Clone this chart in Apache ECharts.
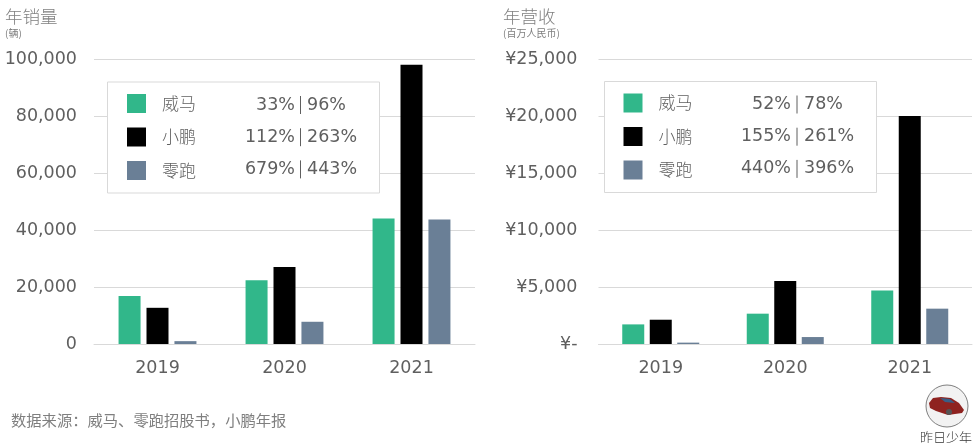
<!DOCTYPE html>
<html>
<head>
<meta charset="utf-8">
<style>
  html, body { margin: 0; padding: 0; background: #fff; }
  #main { width: 975px; height: 443px; }
</style>
<script src="https://cdn.jsdelivr.net/npm/echarts@6/dist/echarts.min.js"></script>
</head>
<body>
<div id="main"></div>
<script>
let years = ['2019', '2020', '2021'];
let brands = ['威马', '小鹏', '零跑'];

// 年销量
let sales_weima = [16800, 22400, 44000];
let sales_xpeng = [12700, 27000, 98000];
let sales_leap = [1000, 7800, 43700];
let sales_growth_a = ['33%', '112%', '679%'];
let sales_growth_b = ['96%', '263%', '443%'];

// 年营收
let revenue_weima = [1720, 2660, 4700];
let revenue_xpeng = [2130, 5530, 20000];
let revenue_leap = [120, 610, 3100];
let revenue_growth_a = ['52%', '155%', '440%'];
let revenue_growth_b = ['78%', '261%', '396%'];

let colors = ['#31b78a', '#000000', '#6a7f96'];
let font = "'DejaVu Sans ExtraLight', 'DejaVu Sans', sans-serif";
let cjk_font = "'Noto Sans CJK SC', sans-serif";
let label_size = 17.5;
let label_color = '#5f5f5f';

let chart = echarts.init(document.getElementById('main'));

function get_title(text, subtext, left) {
    return {
        text: text,
        subtext: subtext,
        left: left,
        top: 4,
        padding: 0,
        itemGap: 0,
        textStyle: {fontFamily: cjk_font, fontSize: 17.5, fontWeight: 300, color: '#7f7f7f', lineHeight: 24},
        subtextStyle: {fontFamily: cjk_font, fontSize: 10, color: '#7f7f7f', lineHeight: 11}
    };
}

function get_legend(left, top) {
    return {
        orient: 'vertical',
        left: left,
        top: top,
        data: brands,
        icon: 'rect',
        itemWidth: 19,
        itemHeight: 19,
        itemGap: 14.5,
        padding: [12, 0, 13, 19],
        selectedMode: false,
        textStyle: {
            fontFamily: cjk_font,
            fontSize: 17,
            fontWeight: 300,
            color: label_color,
            padding: [0, 0, 0, 11]
        }
    };
}

function get_legend_box(x, y) {
    return {type: 'rect', z: 1, shape: {x: x, y: y, width: 272, height: 111}, style: {fill: '#fff', stroke: '#d9d9d9', lineWidth: 1}};
}

// 图例右侧的增长率，竖线左右各一列
function get_growth_texts(a_values, b_values, a_right, line_x, b_left, first_y) {
    let items = [];
    for (let i = 0; i < brands.length; i++) {
        let y = first_y + i * 32.2;
        items.push({type: 'text', z: 10, x: a_right, y: y, style: {text: a_values[i], fontFamily: font, fontSize: label_size, fill: label_color, align: 'right', verticalAlign: 'middle'}});
        items.push({type: 'line', z: 10, shape: {x1: line_x, y1: y - 9, x2: line_x, y2: y + 9}, style: {stroke: label_color, lineWidth: 1}});
        items.push({type: 'text', z: 10, x: b_left, y: y, style: {text: b_values[i], fontFamily: font, fontSize: label_size, fill: label_color, align: 'left', verticalAlign: 'middle'}});
    }
    return items;
}

function get_x_axis(index) {
    return {
        type: 'category',
        gridIndex: index,
        data: years,
        axisTick: {show: false},
        axisLine: {lineStyle: {color: '#d9d9d9', width: 1}},
        axisLabel: {fontFamily: font, fontSize: label_size, color: label_color, margin: 15}
    };
}

function get_y_axis(index, max, interval, margin, formatter) {
    return {
        type: 'value',
        gridIndex: index,
        min: 0,
        max: max,
        interval: interval,
        axisLine: {show: false},
        axisTick: {show: false},
        splitLine: {lineStyle: {color: '#d9d9d9', width: 1}},
        axisLabel: {fontFamily: font, fontSize: label_size, color: label_color, margin: margin, padding: [4, 0, 0, 0], formatter: formatter}
    };
}

function get_bar(name, data, index, color, gap) {
    return {
        name: name,
        type: 'bar',
        xAxisIndex: index,
        yAxisIndex: index,
        data: data,
        barWidth: 22,
        barGap: gap,
        itemStyle: {color: color},
        silent: true
    };
}

function format_number(value) {
    return value.toLocaleString('en-US');
}

function format_yuan(value) {
    return value === 0 ? '¥-' : '¥' + value.toLocaleString('en-US');
}

let option = {
    backgroundColor: '#fff',
    animation: false,
    title: [get_title('年销量', '(辆)', 5), get_title('年营收', '(百万人民币)', 503)],
    legend: [get_legend(108, 82), get_legend(604.5, 81.5)],
    grid: [
        {left: 94, top: 59, width: 381, height: 285},
        {left: 598.5, top: 59, width: 373.5, height: 285}
    ],
    xAxis: [get_x_axis(0), get_x_axis(1)],
    yAxis: [
        get_y_axis(0, 100000, 20000, 17, format_number),
        get_y_axis(1, 25000, 5000, 21, format_yuan)
    ],
    series: [
        get_bar(brands[0], sales_weima, 0, colors[0], '27%'),
        get_bar(brands[1], sales_xpeng, 0, colors[1], '27%'),
        get_bar(brands[2], sales_leap, 0, colors[2], '27%'),
        get_bar(brands[0], revenue_weima, 1, colors[0], '25%'),
        get_bar(brands[1], revenue_xpeng, 1, colors[1], '25%'),
        get_bar(brands[2], revenue_leap, 1, colors[2], '25%')
    ],
    graphic: [
        get_legend_box(107.5, 82),
        get_legend_box(604.5, 81.5),
        // 数据来源
        {type: 'text', left: 11, top: 413, style: {text: '数据来源：威马、零跑招股书，小鹏年报', fontFamily: cjk_font, fontSize: 15.3, fill: '#7f7f7f'}},
        // 头像
        {type: 'circle', shape: {cx: 947, cy: 406, r: 21}, style: {fill: '#f2f2f2', stroke: '#7f7f7f', lineWidth: 1}},
        {type: 'polygon', shape: {points: [[929, 403], [933, 398], [941, 397], [951, 398], [959, 403], [964, 410], [962, 413], [948, 415], [936, 411], [930, 408]]}, style: {fill: '#8f2320'}},
        {type: 'polygon', shape: {points: [[940, 398], [950, 399], [955, 403], [945, 402]]}, style: {fill: '#3a5f86'}},
        {type: 'circle', shape: {cx: 949, cy: 412, r: 3}, style: {fill: '#555'}},
        {type: 'text', left: 920, top: 431, style: {text: '昨日少年', fontFamily: cjk_font, fontSize: 13, fontWeight: 300, fill: '#333'}}
    ]
        .concat(get_growth_texts(sales_growth_a, sales_growth_b, 295, 300.5, 307, 105))
        .concat(get_growth_texts(revenue_growth_a, revenue_growth_b, 791, 797, 804, 104.5))
};

chart.setOption(option);
</script>
</body>
</html>
